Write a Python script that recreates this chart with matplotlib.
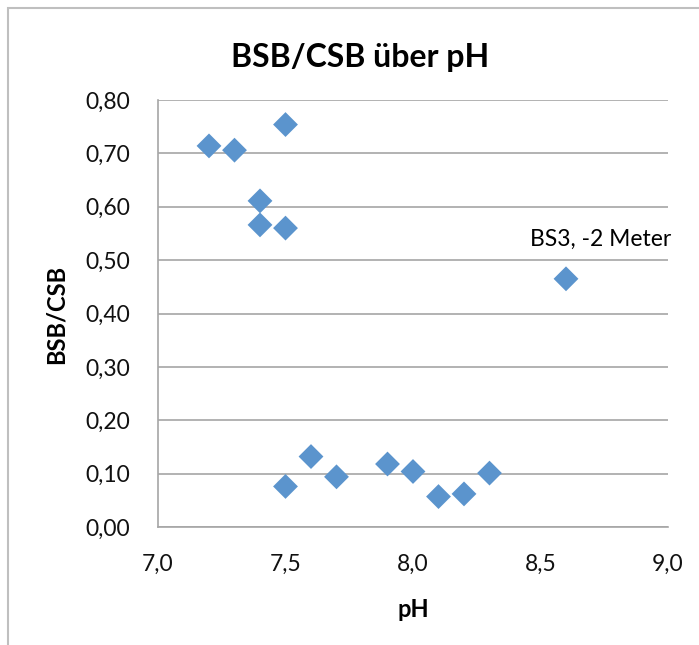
import matplotlib
matplotlib.use("Agg")
import matplotlib.pyplot as plt
from matplotlib.ticker import FuncFormatter, MultipleLocator
from matplotlib.patches import Rectangle

# data
ph = [7.2, 7.3, 7.5, 7.4, 7.4, 7.5, 7.5, 7.6, 7.7, 7.9, 8.0, 8.1, 8.2, 8.3, 8.6]
bsb_csb = [0.714, 0.706, 0.754, 0.611, 0.566, 0.560, 0.076, 0.132, 0.094,
           0.118, 0.104, 0.057, 0.062, 0.101, 0.465]
note_text = "BS3, -2 Meter"
note_pos = (8.46, 0.538)

plt.rcParams['font.family'] = ['Lato', 'DejaVu Sans']

W, H = 699, 645
fig = plt.figure(figsize=(W / 100, H / 100), dpi=100)
ax = fig.add_axes([158 / W, 1 - 527 / H, 510 / W, 427 / H])

# chart frame (Excel style, left and top visible)
fig.patches.append(Rectangle((8 / W, -0.05), 1.2, 1 - 8 / H + 0.05,
                             transform=fig.transFigure, fill=False,
                             edgecolor='#BFBFBF', linewidth=1.5))

ax.scatter(ph, bsb_csb, marker='D', s=160, color='#5B94CD', zorder=3,
           edgecolors='none')
ax.text(note_pos[0], note_pos[1], note_text, fontsize=16.5, va='center',
        ha='left', color='black')

ax.set_xlim(7.0, 9.0)
ax.set_ylim(0.0, 0.8)
ax.xaxis.set_major_locator(MultipleLocator(0.5))
ax.yaxis.set_major_locator(MultipleLocator(0.1))
ax.xaxis.set_major_formatter(FuncFormatter(lambda v, p: f"{v:.1f}".replace('.', ',')))
ax.yaxis.set_major_formatter(FuncFormatter(lambda v, p: f"{v:.2f}".replace('.', ',')))

ax.grid(axis='y', color='#A6A6A6', linewidth=1.2)
ax.set_axisbelow(True)
for side in ['top', 'right']:
    ax.spines[side].set_visible(False)
for side in ['left', 'bottom']:
    ax.spines[side].set_color('#A6A6A6')
    ax.spines[side].set_linewidth(1.2)
ax.tick_params(length=0, labelsize=16.5, colors='#111111')
ax.tick_params(axis='x', pad=19)
ax.tick_params(axis='y', pad=20)

fig.text(360 / W, 1 - 67 / H, "BSB/CSB über pH", fontsize=23,
         fontweight='bold', ha='center', va='baseline')
fig.text(413 / W, 1 - 617 / H, "pH", fontsize=17, fontweight='bold',
         ha='center', va='baseline')
fig.text(56 / W, 1 - 314 / H, "BSB/CSB", fontsize=17, fontweight='bold',
         ha='center', va='center', rotation=90)

fig.savefig("out.png", dpi=100)
